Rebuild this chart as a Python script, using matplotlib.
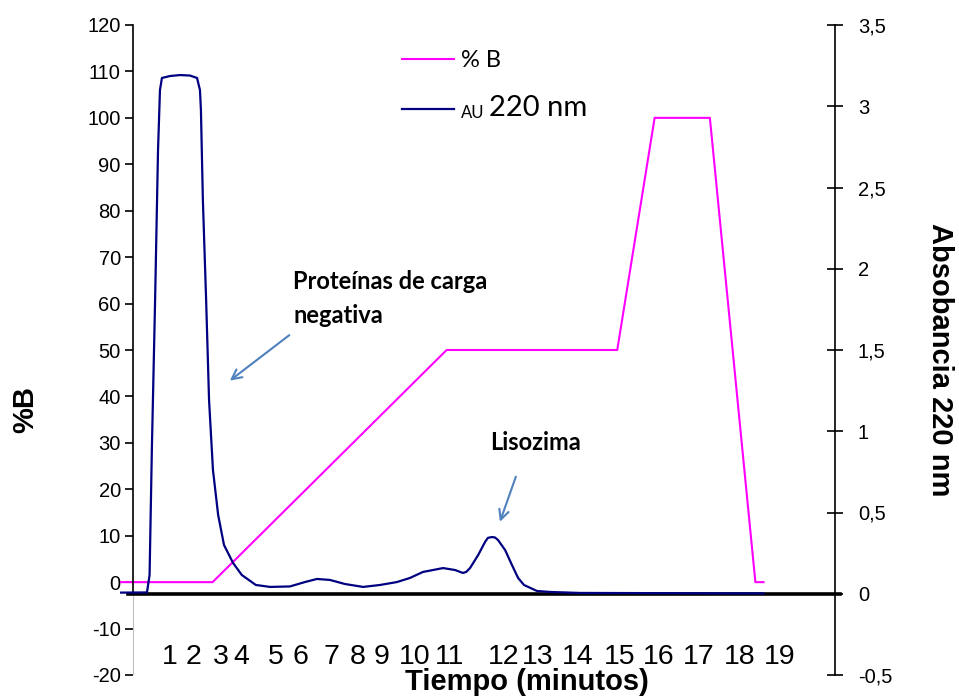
import matplotlib
matplotlib.use('Agg')
import matplotlib.pyplot as plt
from matplotlib.ticker import FuncFormatter

plt.rcParams['axes.unicode_minus'] = False

# gradiente: tiempo (min) y %B
t_b = [0, 2.85, 10.05, 15.3, 16.45, 18.15, 19.55, 19.8]
pct_b = [0, 0, 50, 50, 100, 100, 0, 0]

t_au = [0.02, 0.83, 0.91, 0.98, 1.08, 1.17, 1.23, 1.29, 1.54, 1.85, 2.15, 2.37,
        2.46, 2.49, 2.55, 2.65, 2.74, 2.86, 3.02, 3.20, 3.48, 3.75, 4.18, 4.62,
        5.23, 5.69, 6.06, 6.46, 6.92, 7.48, 8.00, 8.52, 8.92, 9.32, 9.94, 10.31,
        10.55, 10.65, 10.77, 11.02, 11.23, 11.32, 11.45, 11.54, 11.63, 11.85, 12.06,
        12.25, 12.43, 12.83, 13.23, 14.15, 19.8]
au = [0.007, 0.008, 0.115, 0.885, 1.808, 2.731, 3.100, 3.174, 3.186, 3.192, 3.189, 3.174,
      3.100, 2.977, 2.423, 1.808, 1.192, 0.762, 0.485, 0.300, 0.189, 0.115, 0.054, 0.042,
      0.045, 0.072, 0.091, 0.085, 0.060, 0.042, 0.054, 0.072, 0.097, 0.134, 0.158, 0.146,
      0.128, 0.134, 0.158, 0.238, 0.318, 0.344, 0.349, 0.346, 0.331, 0.269, 0.177,
      0.097, 0.054, 0.017, 0.011, 0.005, 0.002]

# etiquetas del eje x (colocadas a mano en el original, posiciones irregulares)
xtick_pos = [1.53, 2.25, 3.09, 3.74, 4.79, 5.56, 6.50, 7.30, 8.05, 9.08, 10.13,
             11.80, 12.86, 14.08, 15.36, 16.59, 17.80, 19.06, 20.30]
xtick_lab = [str(i) for i in range(1, 20)]

left_ticks = list(range(-20, 121, 10))
right_ticks = [-0.5, 0, 0.5, 1, 1.5, 2, 2.5, 3, 3.5]

# anotaciones (coordenadas del eje %B)
prot_text = (5.33, 55.75)
prot_tail = (5.21, 53.2)
prot_tip = (3.38, 43.4)
liso_text = (11.38, 28.5)
liso_tail = (12.18, 22.7)
liso_tip = (11.69, 13.0)

PINK = '#FF00FF'
NAVY = '#000080'
ARROW = '#4F81BD'
AXIS_X = 0.41      # donde cruza el eje y izquierdo
ZERO_AU = -2.5     # 0 de absorbancia en la escala %B

fig = plt.figure(figsize=(9.59, 6.98), dpi=100)
ax = fig.add_axes([120 / 959, 23 / 698, 715 / 959, 650 / 698])
ax.set_xlim(0, 22)
ax.set_ylim(-20, 120)
ax2 = ax.twinx()
ax2.set_ylim(-0.5, 3.5)

l_b, = ax.plot(t_b, pct_b, color=PINK, lw=1.5, label='% B')
l_au, = ax2.plot(t_au, au, color=NAVY, lw=1.6, label='AU')

# ejes
for s in ['top', 'right']:
    ax.spines[s].set_visible(False)
ax.spines['left'].set_position(('data', AXIS_X))
ax.spines['left'].set_bounds(ZERO_AU, 120)
ax.spines['left'].set_linewidth(1.2)
ax.spines['bottom'].set_position(('data', ZERO_AU))
ax.spines['bottom'].set_bounds(0.25, 22.15)
ax.spines['bottom'].set_linewidth(2.6)
ax.axvline(AXIS_X, ymin=0, ymax=(ZERO_AU + 20) / 140, color='#bfbfbf', lw=0.8)
for s in ['top', 'left', 'bottom']:
    ax2.spines[s].set_visible(False)
ax2.spines['right'].set_linewidth(1.2)

ax.set_yticks(left_ticks)
ax.tick_params(axis='y', direction='out', length=6, width=1.2, pad=3,
               labelsize=14.5)
for lab in ax.get_yticklabels():
    lab.set_family('Liberation Sans')

ax2.set_yticks(right_ticks)
ax2.yaxis.set_major_formatter(FuncFormatter(lambda v, p: f'{v:g}'.replace('.', ',')))
ax2.tick_params(axis='y', direction='inout', length=11, width=1.2, pad=11,
                labelsize=14.5)
for lab in ax2.get_yticklabels():
    lab.set_family('Liberation Sans')

ax.set_xticks(xtick_pos, xtick_lab)
ax.tick_params(axis='x', length=0, pad=36, labelsize=20.5)
for lab in ax.get_xticklabels():
    lab.set_family('Liberation Sans')

ax.set_xlabel('Tiempo (minutos)', fontsize=21, fontweight='bold',
              family='Liberation Sans', va='top')
ax.xaxis.set_label_coords(0.569, 0.011)
ax.set_ylabel('%B', fontsize=21, fontweight='bold', family='Liberation Sans',
              va='center', ha='center')
ax.yaxis.set_label_coords(-0.133, 0.408)
ax2.set_ylabel('Absobancia 220 nm', fontsize=21, fontweight='bold',
               family='Liberation Sans', rotation=-90, va='center', ha='center')
ax2.yaxis.set_label_coords(1.147, 0.485)

# leyenda
leg = ax2.legend(handles=[l_b, l_au], loc='center left',
                 bbox_to_anchor=(0.394, 0.907), frameon=False,
                 prop={'family': 'Lato', 'size': 17}, borderpad=0,
                 borderaxespad=0, handlelength=2.2, handletextpad=0.3,
                 labelspacing=1.27)
txt_au = leg.get_texts()[1]
txt_au.set_fontsize(12)
ax2.annotate('220 nm', xy=(1, 0), xycoords=txt_au, xytext=(3.5, -0.5),
             textcoords='offset points', ha='left', va='bottom',
             family='Lato', fontsize=21, zorder=10)

# anotaciones
ax.text(*prot_text, 'Proteínas de carga\nnegativa', family='Lato',
        fontweight='bold', fontsize=17, ha='left', va='baseline',
        linespacing=1.6)
ax.annotate('', xy=prot_tip, xytext=prot_tail,
            arrowprops=dict(arrowstyle='->,head_length=0.7,head_width=0.35',
                            color=ARROW, lw=1.5, shrinkA=0, shrinkB=0))
ax.text(*liso_text, 'Lisozima', family='Lato', fontweight='bold', fontsize=17,
        ha='left', va='baseline')
ax.annotate('', xy=liso_tip, xytext=liso_tail,
            arrowprops=dict(arrowstyle='->,head_length=0.7,head_width=0.35',
                            color=ARROW, lw=1.5, shrinkA=0, shrinkB=0))

fig.canvas.draw()
fig.savefig('out.png', dpi=100)
